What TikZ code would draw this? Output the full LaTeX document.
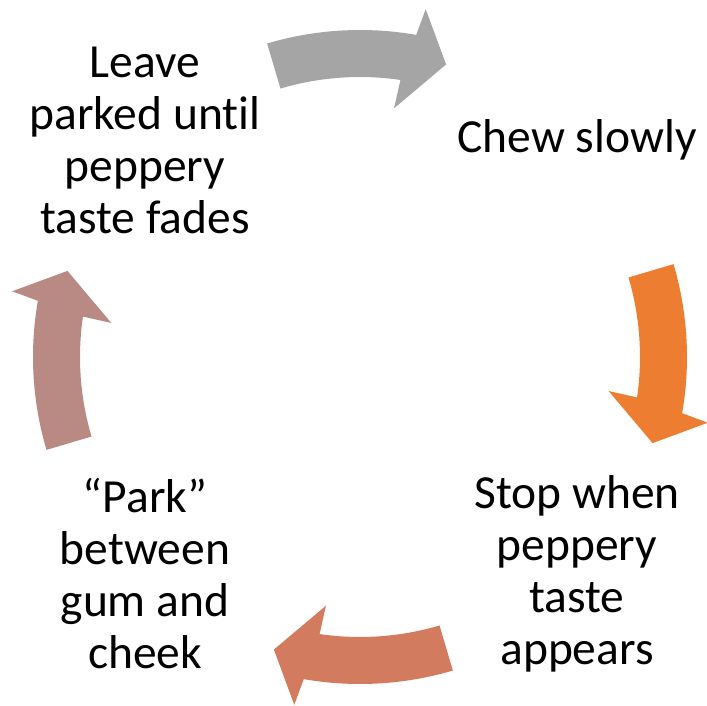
\documentclass[tikz,border=0pt]{standalone}
\usepackage{fontspec}
\setmainfont{Carlito}[Ligatures={NoCommon,NoContextual}]
\definecolor{arrowgray}{HTML}{A5A5A5}
\definecolor{arroworange}{HTML}{ED7D31}
\definecolor{arrowterra}{HTML}{D37B5E}
\definecolor{arrowrose}{HTML}{B88A83}
\begin{document}
\begin{tikzpicture}[x=1pt,y=1pt,
  steptext/.style={align=center, font=\fontsize{47.5}{52}\selectfont, text=black, inner sep=0pt}]
\useasboundingbox (-360,-348) rectangle (347,357);

% four curved clockwise arrows on a ring around the origin
\foreach \a/\col in {90/arrowgray, 0/arroworange, 270/arrowterra, 180/arrowrose}{
  \fill[\col] (\a+16.5:327pt)
    arc[start angle=\a+16.5, end angle=\a-9.9, radius=327pt]
    -- (\a-10.7:354pt) -- (\a-16.4:305pt) -- (\a-7.8:251pt) -- (\a-8.3:280pt)
    arc[start angle=\a-8.3, end angle=\a+16.5, radius=280pt] -- cycle;
}

% step labels (kern keeps "t" and "i" as separate glyphs)
\node[steptext] (leave) at (-215,217) {Leave\\parked unt\kern0pt il\\peppery\\taste fades};
\node[steptext] (chew)  at (217,217)  {Chew slowly};
\node[steptext] (stop)  at (217,-217) {Stop when\\peppery\\taste\\appears};
\node[steptext] (park)  at (-215,-217) {“Park”\\between\\gum and\\cheek};
\end{tikzpicture}
\end{document}
